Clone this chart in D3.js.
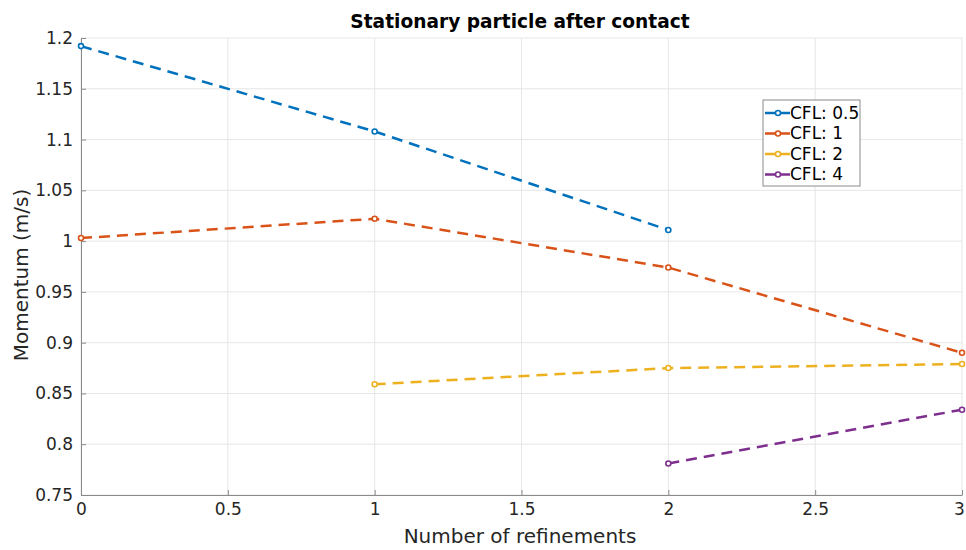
<!DOCTYPE html>
<html>
<head>
<meta charset="utf-8">
<script src="https://cdn.jsdelivr.net/npm/d3@7"></script>
<style>
  body { margin: 0; background: #fff; }
  svg { display: block; font-family: "DejaVu Sans", sans-serif; }
</style>
</head>
<body>
<svg id="chart" width="966" height="550"></svg>
<script>
// Momentum after contact for each CFL number, versus refinement level
const seriesNames = ["CFL: 0.5", "CFL: 1", "CFL: 2", "CFL: 4"];
const seriesColors = ["#0072BD", "#D95319", "#EDB120", "#7E2F8E"];
const cfl05 = [[0, 1.192], [1, 1.108], [2, 1.011]];
const cfl1  = [[0, 1.003], [1, 1.022], [2, 0.974], [3, 0.890]];
const cfl2  = [[1, 0.859], [2, 0.875], [3, 0.879]];
const cfl4  = [[2, 0.781], [3, 0.834]];
const seriesData = [cfl05, cfl1, cfl2, cfl4];
const xTicks = [0, 0.5, 1, 1.5, 2, 2.5, 3];
const yTicks = [0.75, 0.8, 0.85, 0.9, 0.95, 1, 1.05, 1.1, 1.15, 1.2];

const svg = d3.select("#chart");
const plotL = 81, plotR = 962, plotT = 38, plotB = 495;

const x = d3.scaleLinear().domain([0, 3]).range([plotL, plotR]);
const y = d3.scaleLinear().domain([0.75, 1.2]).range([plotB, plotT]);

const fmt = d => String(+d.toFixed(2));

// grid
const grid = svg.append("g");
grid.selectAll("line.gx").data(xTicks).join("line").attr("class", "gx")
  .attr("x1", d => x(d)).attr("x2", d => x(d))
  .attr("y1", plotT).attr("y2", plotB)
  .attr("stroke", "#e6e6e6").attr("stroke-width", 1);
grid.selectAll("line.gy").data(yTicks).join("line").attr("class", "gy")
  .attr("x1", plotL).attr("x2", plotR)
  .attr("y1", d => y(d)).attr("y2", d => y(d))
  .attr("stroke", "#e6e6e6").attr("stroke-width", 1);

// axes
const xAxis = svg.append("g").attr("transform", `translate(0,${plotB})`)
  .call(d3.axisBottom(x).tickValues(xTicks).tickFormat(fmt).tickSizeInner(-5).tickSizeOuter(0).tickPadding(10));
const yAxis = svg.append("g").attr("transform", `translate(${plotL},0)`)
  .call(d3.axisLeft(y).tickValues(yTicks).tickFormat(fmt).tickSizeInner(-5).tickSizeOuter(0).tickPadding(8));
[xAxis, yAxis].forEach(a => {
  a.select(".domain").attr("stroke", "#8a8a8a").attr("stroke-width", 1);
  a.selectAll(".tick line").attr("stroke", "#8a8a8a");
  a.selectAll("text").attr("fill", "#262626").style("font-size", "17px").style("font-family", "DejaVu Sans, sans-serif");
});
xAxis.selectAll("text").attr("dy", "0.6em");
// keep the last x label inside the page edge
xAxis.selectAll(".tick text").filter(d => d === 3).attr("dx", "-3");

// lines and markers
const line = d3.line().x(d => x(d[0])).y(d => y(d[1]));
seriesData.forEach((data, i) => {
  svg.append("path").datum(data)
    .attr("d", line)
    .attr("fill", "none")
    .attr("stroke", seriesColors[i])
    .attr("stroke-width", 2.5)
    .attr("stroke-dasharray", "11,7");
  svg.append("g").selectAll("circle").data(data).join("circle")
    .attr("cx", d => x(d[0])).attr("cy", d => y(d[1]))
    .attr("r", 2.5)
    .attr("fill", "#fff")
    .attr("stroke", seriesColors[i])
    .attr("stroke-width", 1.6);
});

// title and axis labels
svg.append("text").attr("x", 520).attr("y", 28)
  .attr("text-anchor", "middle").attr("font-weight", "bold")
  .attr("font-size", 18.6).attr("fill", "#000")
  .text("Stationary particle after contact");
svg.append("text").attr("x", 520).attr("y", 543)
  .attr("text-anchor", "middle").attr("font-size", 20).attr("fill", "#262626")
  .text("Number of refinements");
svg.append("text")
  .attr("transform", `translate(28,275) rotate(-90)`)
  .attr("text-anchor", "middle").attr("font-size", 20).attr("fill", "#262626")
  .text("Momentum (m/s)");

// legend
const lg = svg.append("g").attr("transform", "translate(763,100)");
lg.append("rect").attr("width", 97).attr("height", 86)
  .attr("fill", "#fff").attr("stroke", "#8a8a8a").attr("stroke-width", 1);
seriesNames.forEach((name, i) => {
  const yy = 13 + i * 20.5;
  lg.append("line").attr("x1", 2).attr("x2", 27).attr("y1", yy).attr("y2", yy)
    .attr("stroke", seriesColors[i]).attr("stroke-width", 2.5)
    .attr("stroke-dasharray", "11,4");
  lg.append("circle").attr("cx", 15).attr("cy", yy).attr("r", 2.5)
    .attr("fill", "#fff").attr("stroke", seriesColors[i]).attr("stroke-width", 1.6);
  lg.append("text").attr("x", 27).attr("y", yy).attr("dy", "0.35em")
    .attr("font-size", 17).attr("fill", "#000").text(name);
});
</script>
</body>
</html>
